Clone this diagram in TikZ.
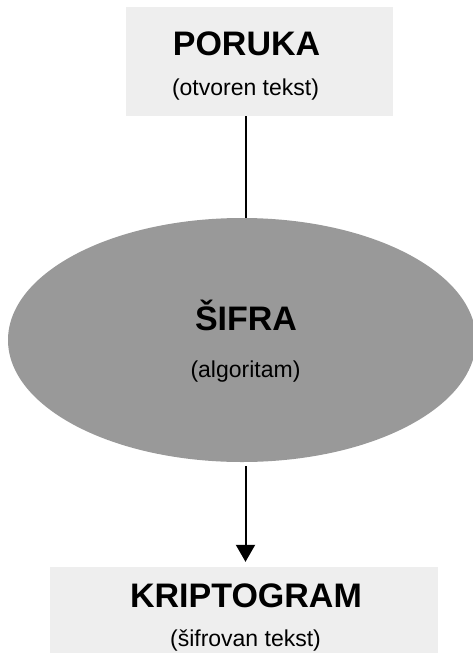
\documentclass[tikz,border=0pt]{standalone}
\usepackage{fontspec}
\setmainfont{Liberation Sans}
\usepackage{tikz}
\usetikzlibrary{arrows.meta,shapes.geometric}
\definecolor{boxgray}{HTML}{EEEEEE}
\definecolor{ellgray}{HTML}{999999}
\tikzset{
  msgbox/.style={fill=boxgray, draw=none, inner sep=0pt},
  ciphernode/.style={ellipse, fill=ellgray, draw=none, inner sep=0pt,
    minimum width=468pt, minimum height=244pt},
  titletext/.style={font=\fontsize{34}{37}\selectfont\bfseries, anchor=base, inner sep=0pt},
  subtext/.style={font=\fontsize{23}{26}\selectfont, anchor=base, inner sep=0pt},
  conn/.style={line width=2pt, black}
}

\begin{document}
\begin{tikzpicture}[x=1pt, y=-1pt]
  \useasboundingbox (0,0) rectangle (472,653);
  % ulaz
  \node[msgbox, minimum width=267pt, minimum height=109pt] (poruka) at (259.5,61.5) {};
  \node[titletext] (porukaT) at (246.5,55) {PORUKA};
  \node[subtext] (porukaS) at (245.5,95) {(otvoren tekst)};
  % algoritam
  \node[ciphernode] (sifra) at (242,340) {};
  \node[titletext] (sifraT) at (246,330) {ŠIFRA};
  \node[subtext] (sifraS) at (245.5,377) {(algoritam)};
  % izlaz
  \node[msgbox, minimum width=388pt, minimum height=86pt] (kripto) at (244,610) {};
  \node[titletext] (kriptoT) at (246,607) {KRIPTOGRAM};
  \node[subtext] (kriptoS) at (245.5,646) {(šifrovan tekst)};
  % veze
  \draw[conn] (poruka.south -| porukaS) -- (sifra.north -| porukaS);
  \draw[conn, -{Triangle[width=19pt, length=17pt]}, shorten <=4pt, shorten >=5pt]
    (sifra.south -| kriptoS) -- (kripto.north -| kriptoS);
\end{tikzpicture}
\end{document}
